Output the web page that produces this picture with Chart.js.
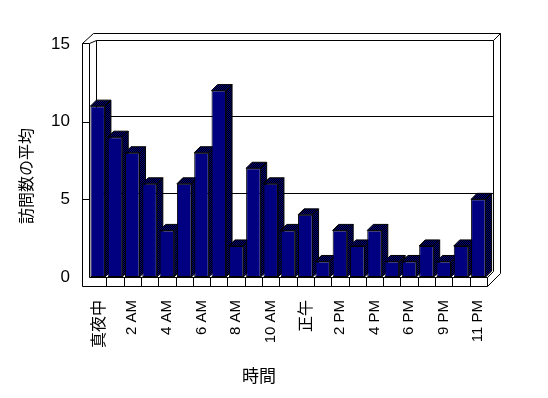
<!DOCTYPE html>
<html><head><meta charset="utf-8">
<script src="https://cdn.jsdelivr.net/npm/chart.js@4"></script>
<style>html,body{margin:0;padding:0;background:#fff}#wrap{width:548px;height:398px}</style>
</head><body><div id="wrap"><canvas id="c" width="548" height="398"></canvas></div>
<script>
const hourLabels = ['真夜中','1 AM','2 AM','3 AM','4 AM','5 AM','6 AM','7 AM','8 AM','9 AM','10 AM','11 AM','正午','1 PM','2 PM','3 PM','4 PM','5 PM','6 PM','7 PM','9 PM','10 PM','11 PM'];
const visitAverages = [11, 9, 8, 6, 3, 6, 8, 12, 2, 7, 6, 3, 4, 1, 3, 2, 3, 1, 1, 2, 1, 2, 5];
const yTickValues = [0, 5, 10, 15];
const yTitle = '訪問数の平均';
const xTitle = '時間';

const NAVY = '#000080';
const LATIN = '"Liberation Sans", Arial, "Noto Sans CJK JP", sans-serif';
const CJK = '"Noto Sans CJK JP", "Liberation Sans", sans-serif';

// dithered navy/black pattern for side & top faces
const pc = document.createElement('canvas');
pc.width = 2; pc.height = 2;
const pctx = pc.getContext('2d');
pctx.fillStyle = '#000'; pctx.fillRect(0,0,2,2);
pctx.fillStyle = NAVY; pctx.fillRect(0,0,1,1); pctx.fillRect(1,1,1,1);

const px = v => Math.round(v) + 0.5;

const scene3d = {
  id: 'scene3d',
  beforeDatasetsDraw(chart) {
    const {ctx, chartArea: a, scales: {x, y}} = chart;
    const L = a.left, R = a.right, T = a.top, B = a.bottom;
    ctx.save();
    ctx.strokeStyle = '#000';
    ctx.lineWidth = 1;
    const seg = (x1, y1, x2, y2) => {
      ctx.beginPath(); ctx.moveTo(px(x1), px(y1)); ctx.lineTo(px(x2), px(y2)); ctx.stroke();
    };
    // walls
    seg(L-7, T-1, L-7, B+9);
    seg(L, T-1, L, B);
    seg(L-7, T-1, L, T-1);
    seg(L-7, T-1, L+4, T-11);
    seg(L+4, T-11, R+13, T-11);
    seg(L, T-1, L+7, T-4);
    seg(L+7, T-4, R+6, T-4);
    seg(L+7, T-4, L+7, B-6);
    seg(R+6, T-4, R+13, T-11);
    seg(R+13, T-11, R+13, B-4);
    seg(R+6, T-4, R+6, B-6);
    seg(R, B+9, R+13, B-4);
    seg(R, B, R+6, B-6);
    // floor
    seg(L, B, R, B);
    seg(L-7, B+9, R, B+9);
    seg(R, B, R, B+9);
    const n = chart.data.labels.length;
    for (let k = 1; k < n; k++) {
      const xx = L + k * (R - L) / n;
      seg(xx, B, xx, B+9);
    }
    // back-wall gridlines and value ticks
    yTickValues.forEach(v => {
      if (v === 0 || v === yTickValues[yTickValues.length-1]) return;
      const yy = y.getPixelForValue(v);
      seg(L+7, yy-6, R+6, yy-6);
      seg(L-7, yy, L, yy);
    });
    // bar side and top faces
    const pat = ctx.createPattern(pc, 'repeat');
    const dx = 6, dy = -6;
    chart.getDatasetMeta(0).data.forEach(el => {
      const p = el.getProps(['x','y','base','width'], true);
      const xl = p.x - p.width/2, xr = p.x + p.width/2, top = p.y, base = p.base;
      ctx.fillStyle = pat;
      ctx.beginPath();
      ctx.moveTo(xr, top); ctx.lineTo(xr+dx, top+dy); ctx.lineTo(xr+dx, base+dy); ctx.lineTo(xr, base); ctx.closePath();
      ctx.fill(); ctx.stroke();
      ctx.beginPath();
      ctx.moveTo(xl, top); ctx.lineTo(xl+dx, top+dy); ctx.lineTo(xr+dx, top+dy); ctx.lineTo(xr, top); ctx.closePath();
      ctx.fill(); ctx.stroke();
    });
    ctx.restore();
  },
  afterDraw(chart) {
    const ctx = chart.ctx;
    ctx.save();
    ctx.fillStyle = '#000';
    ctx.textAlign = 'center';
    ctx.textBaseline = 'middle';
    ctx.font = '17px ' + CJK;
    ctx.fillText(xTitle, 259, 376);
    ctx.translate(26, 176);
    ctx.rotate(-Math.PI/2);
    ctx.font = '16px ' + CJK;
    ctx.fillText(yTitle, 0, 0);
    ctx.restore();
  }
};

new Chart(document.getElementById('c'), {
  type: 'bar',
  data: {
    labels: hourLabels,
    datasets: [{
      data: visitAverages,
      backgroundColor: NAVY,
      borderColor: '#000',
      borderWidth: 1,
      borderSkipped: false,
      barPercentage: 0.84,
      categoryPercentage: 1.0
    }]
  },
  options: {
    responsive: false,
    animation: false,
    devicePixelRatio: 1,
    layout: {padding: {left: 0, top: 44, right: 61, bottom: 0}},
    plugins: {legend: {display: false}, tooltip: {enabled: false}},
    scales: {
      x: {
        type: 'category',
        offset: true,
        grid: {display: false, drawTicks: false},
        border: {display: false},
        ticks: {
          autoSkip: false, maxRotation: 90, minRotation: 90, padding: 23,
          color: '#000',
          font: c => /[^\x00-\x7f]/.test(hourLabels[c.index] || '') ? {size: 16, family: CJK} : {size: 15, family: LATIN},
          callback: function(v, i) { return i % 2 === 0 ? this.getLabelForValue(v) : ''; }
        },
        afterFit: s => { s.height = 121; }
      },
      y: {
        min: 0, max: 15,
        grid: {display: false, drawTicks: false},
        border: {display: false},
        ticks: {stepSize: 5, padding: 19, color: '#000', font: {size: 17, family: LATIN}},
        afterFit: s => { s.width = 89; }
      }
    }
  },
  plugins: [scene3d]
});
</script>
</body></html>
